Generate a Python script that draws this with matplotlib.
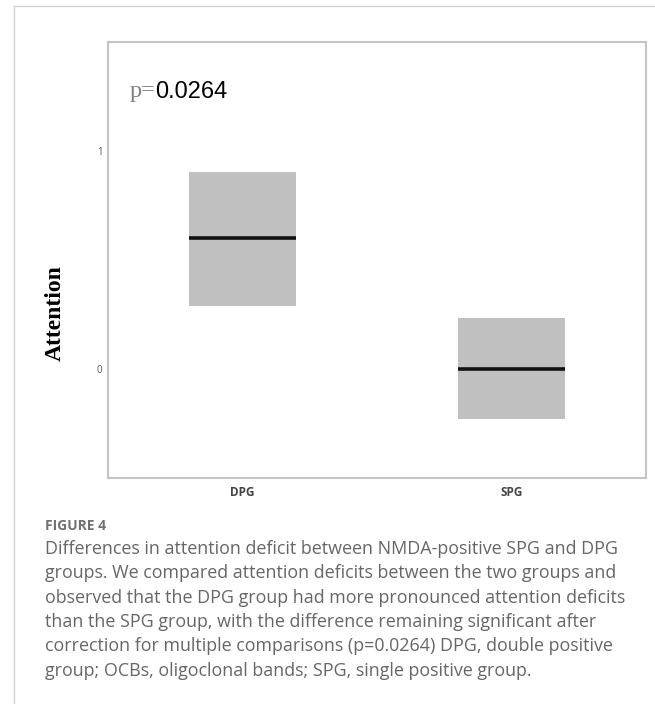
import matplotlib
matplotlib.use("Agg")
import matplotlib.pyplot as plt
from matplotlib.lines import Line2D

groups = ["DPG", "SPG"]
q1 = [0.29, -0.23]
median = [0.60, 0.0]
q3 = [0.905, 0.235]
y_ticks = [0, 1]
p_label = "0.0264"
y_label = "Attention"
fig_label = "FIGURE 4"
caption_lines = [
    "Differences in attention deficit between NMDA-positive SPG and DPG",
    "groups. We compared attention deficits between the two groups and",
    "observed that the DPG group had more pronounced attention deficits",
    "than the SPG group, with the difference remaining significant after",
    "correction for multiple comparisons (p=0.0264) DPG, double positive",
    "group; OCBs, oligoclonal bands; SPG, single positive group.",
]

W, H = 655, 704
fig = plt.figure(figsize=(W / 100, H / 100), dpi=100)

# page frame lines
fig.add_artist(Line2D([14 / W, 14 / W], [0, 1 - 6 / H], color="#d4d4d4", lw=1))
fig.add_artist(Line2D([14 / W, 1], [1 - 6 / H, 1 - 6 / H], color="#d4d4d4", lw=1))

ax = fig.add_axes([108 / W, 1 - 478 / H, 538 / W, 436 / H])
x = list(range(len(groups)))
heights = [b - a for a, b in zip(q1, q3)]
ax.bar(x, heights, bottom=q1, width=0.4, color="#c0c0c0", edgecolor="none", zorder=2)
ax.hlines(median, [i - 0.2 for i in x], [i + 0.2 for i in x], color="#111111", lw=2.6, zorder=3)

ax.set_xlim(-0.5, 1.5)
ax.set_ylim(-0.5, 1.5)
ax.set_xticks(x)
ax.set_xticklabels(groups, fontsize=8.5, color="#444444", family="Open Sans", fontweight="bold")
ax.set_yticks(y_ticks)
ax.set_yticklabels([str(t) for t in y_ticks], fontsize=7, color="#555555", family="Open Sans")
ax.tick_params(length=0, pad=4)
ax.tick_params(axis="x", pad=6)
for s in ax.spines.values():
    s.set_color("#c4c4c4")
    s.set_linewidth(1.5)

fig.text(55 / W, 1 - 313 / H, y_label, rotation=90, ha="center", va="center",
         family="Liberation Serif", fontweight="bold", fontsize=17, color="black")

# p value: "p=" in grey serif, number in black sans
fig.text(130 / W, 1 - 92 / H, "p=", ha="left", va="center",
         family="Liberation Serif", fontsize=17.5, color="#808080")
fig.text(155 / W, 1 - 92 / H, p_label, ha="left", va="center",
         family="Liberation Sans", fontsize=17, color="black")

fig.text(45 / W, 1 - 526 / H, fig_label, ha="left", va="center",
         family="Open Sans", fontweight="bold", fontsize=10, color="#707070")
fig.text(45 / W, 1 - 540 / H, "\n".join(caption_lines), ha="left", va="top",
         family="Open Sans", fontsize=12.9, color="#666666", linespacing=1.45)

fig.savefig("out.png", dpi=100)
